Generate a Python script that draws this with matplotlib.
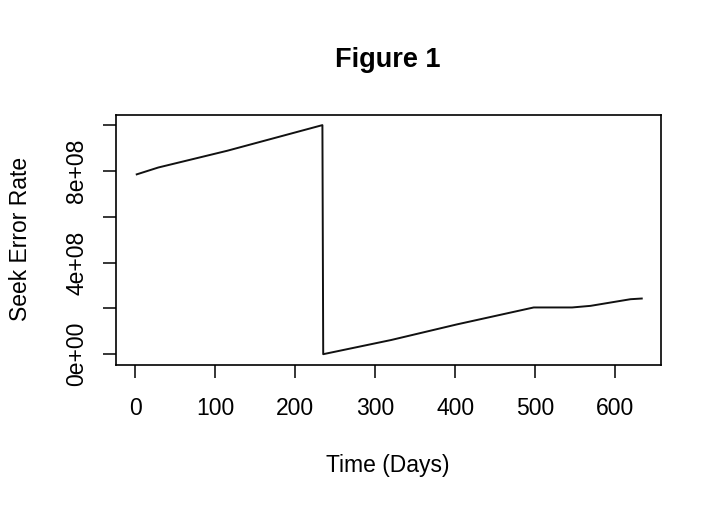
import matplotlib
matplotlib.use("Agg")
import matplotlib.pyplot as plt

# breakpoints
days = [2, 29, 115, 234, 235, 320, 402, 498, 546, 569, 619, 633]
seek_error = [7.85e8, 8.15e8, 8.88e8, 10.0e8, 0.0, 0.62e8, 1.30e8,
              2.04e8, 2.04e8, 2.11e8, 2.40e8, 2.43e8]

x_ticks = [0, 100, 200, 300, 400, 500, 600]
y_ticks = [0, 2e8, 4e8, 6e8, 8e8, 1e9]
y_labels = ["0e+00", "", "4e+08", "", "8e+08", ""]

plt.rcParams['font.family'] = ['Liberation Sans', 'DejaVu Sans']

fig = plt.figure(figsize=(7.2, 5.09), dpi=100)
ax = fig.add_axes([0.161, 0.283, 0.757, 0.491])

ax.plot(days, seek_error, color='#111111', lw=1.4)

ax.set_xlim(-24, 657)
ax.set_ylim(-0.47e8, 10.44e8)
ax.set_xticks(x_ticks)
ax.set_yticks(y_ticks)
ax.set_yticklabels(y_labels, rotation=90, va='center')
ax.tick_params(direction='out', length=9.5, width=1.1, labelsize=16.5, pad=13.5)
ax.tick_params(axis='y', pad=10.5)
for s in ax.spines.values():
    s.set_linewidth(1.2)

fig.text(0.538, 0.086, 'Time (Days)', ha='center', va='center', fontsize=16.5)
fig.text(0.028, 0.530, 'Seek Error Rate', ha='center', va='center',
         rotation=90, fontsize=16.5)
fig.text(0.538, 0.882, 'Figure 1', ha='center', va='center',
         fontsize=19.5, fontweight='bold')

fig.savefig('out.png', dpi=100)
